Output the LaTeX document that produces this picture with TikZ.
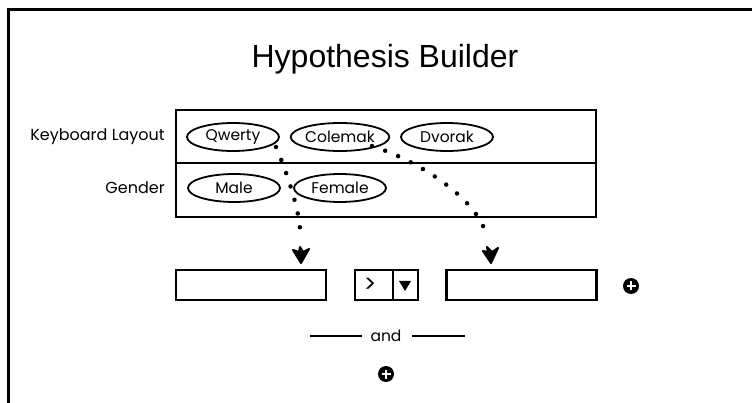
\documentclass[tikz,border=0pt]{standalone}
\usepackage{fontspec}
\setmainfont{Liberation Sans}
\newfontfamily\sketchfont{Poppins}
\usetikzlibrary{shapes.geometric}
\begin{document}
\begin{tikzpicture}[x=1pt,y=-1pt,
  pill/.style={ellipse,draw,line width=1.8pt,minimum width=92pt,minimum height=28pt,inner sep=0pt,font=\sketchfont\fontsize{15.5}{18}\selectfont},
  rowlabel/.style={anchor=east,inner sep=0pt,font=\sketchfont\fontsize{16}{18}\selectfont},
  field/.style={draw,line width=2.4pt,minimum width=150pt,minimum height=30pt,inner sep=0pt},
  dotline/.style={line width=4.5pt,line cap=round,dash pattern=on 0pt off 14pt},
  tipfill/.style={fill=black,draw=black,line width=2pt,line join=round},
  plusbtn/.style={circle,fill=black,minimum size=16pt,inner sep=0pt}
]
\useasboundingbox (0,0) rectangle (752,403);
% frame
\draw[line width=3pt] (8,403) -- (8,10) -- (752,10);
% title
\node[font=\fontsize{32}{38}\selectfont] (title) at (385,59) {Hypothesis Builder};
% table
\node[draw,line width=2.4pt,minimum width=420pt,minimum height=107pt,inner sep=0pt] (table) at (386,163.5) {};
\draw[line width=1.5pt] (table.west |- 0,163) coordinate (midl) -- (table.east |- 0,163) coordinate (midr);
\node[rowlabel] (kbl) at (165,137) {Keyboard Layout};
\node[rowlabel] (gl) at (165,188) {Gender};
\node[pill] (qwerty) at (233,137) {Qwerty};
\node[pill] (colemak) at (340,137) {Colemak};
\node[pill] (dvorak) at (447,137) {Dvorak};
\node[pill] (male) at (234,188) {Male};
\node[pill] (female) at (340,188) {Female};
% fields
\node[field] (lbox) at (251,285) {};
\node[draw,line width=2pt,minimum width=63pt,minimum height=30pt,inner sep=0pt] (dd) at (386.5,285) {};
\draw[line width=1.5pt] (393,270) coordinate (ddt) -- (393,300) coordinate (ddb);
\node[font=\sketchfont\fontsize{24}{26}\selectfont] (gt) at (370,285) {>};
\fill (399,281) -- (411,281) -- (405,291) -- cycle;
\node[field] (rbox) at (521.5,285) {};
\node[plusbtn] (plus1) at (631,286) {};
\draw[white,line width=2.2pt] ([xshift=-4.5pt]plus1.center) -- ([xshift=4.5pt]plus1.center);
\draw[white,line width=2.2pt] ([yshift=-4.5pt]plus1.center) -- ([yshift=4.5pt]plus1.center);
% and
\node[font=\sketchfont\fontsize{15.5}{18}\selectfont] (andlbl) at (386,336) {and};
\draw[line width=1.6pt] (310,336) -- (362,336);
\draw[line width=1.6pt] (412,336) -- (465,336);
\node[plusbtn] (plus2) at (386,374) {};
\draw[white,line width=2.2pt] ([xshift=-4.5pt]plus2.center) -- ([xshift=4.5pt]plus2.center);
\draw[white,line width=2.2pt] ([yshift=-4.5pt]plus2.center) -- ([yshift=4.5pt]plus2.center);
% dotted connectors
\coordinate (startL) at (276,147);
\coordinate (startR) at (372,146);
\coordinate (tipL) at (301,263);
\coordinate (tipR) at (491,263);
\draw[dotline] (startL) .. controls (290,180) and (300,215) .. (300,231);
\fill[tipfill] (tipL) -- ([shift={(-8,-13)}]tipL) -- ([shift={(-2,-11)}]tipL) -- ([shift={(-1,-16)}]tipL)
  -- ([shift={(2,-11)}]tipL) -- ([shift={(8,-14)}]tipL) -- cycle;
\draw[dotline] (startR) .. controls (430,165) and (480,205) .. (486,235);
\fill[tipfill] (tipR) -- ([shift={(-8,-12)}]tipR) -- ([shift={(-3,-11)}]tipR) -- ([shift={(-4,-16)}]tipR)
  -- ([shift={(1,-11)}]tipR) -- ([shift={(7,-15)}]tipR) -- cycle;
\end{tikzpicture}
\end{document}
